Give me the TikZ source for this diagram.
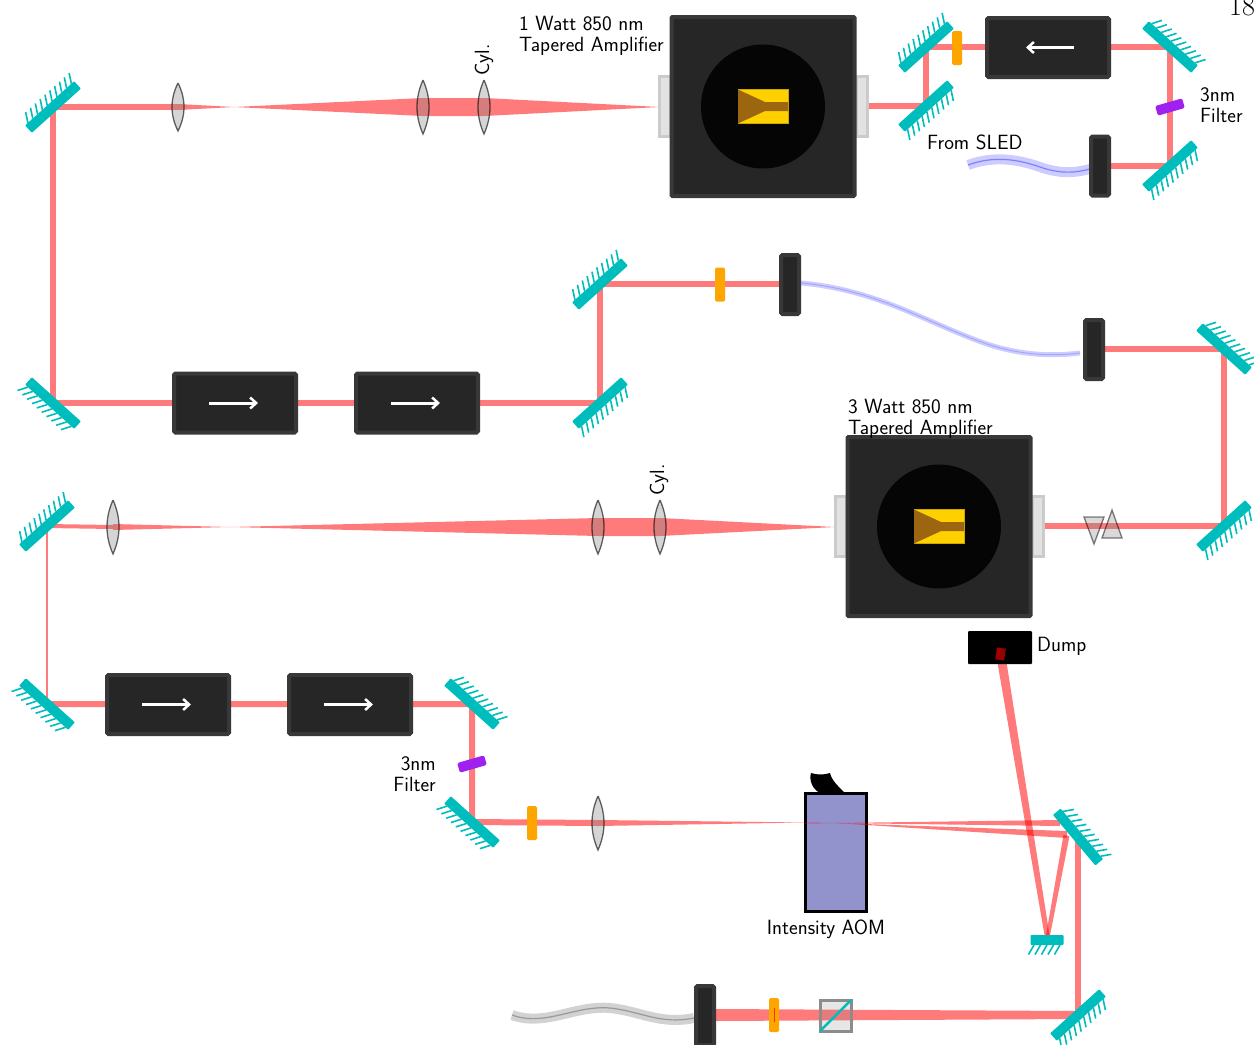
\documentclass[tikz,border=0pt]{standalone}
\usepackage{amsmath,amssymb}
\usetikzlibrary{arrows.meta}
\definecolor{teal}{HTML}{00BDBD}
\definecolor{boxdark}{HTML}{262626}
\definecolor{boxedge}{HTML}{383838}
\definecolor{plate}{HTML}{E2E2E2}
\definecolor{chipgold}{HTML}{FFD000}
\definecolor{chipbrown}{HTML}{9C6510}
\definecolor{wave}{HTML}{FFA500}
\definecolor{violet}{HTML}{A020F0}
\definecolor{aom}{HTML}{9292CC}
\colorlet{fibreblue}{blue!50}
\tikzset{
  beam/.style={draw=red,opacity=.52,line width=#1},
  beam/.default=6,
  beamfan/.style={fill=red,opacity=.52},
  isobox/.style={fill=boxdark,draw=boxedge,line width=4,rounded corners=1.5,minimum width=122,minimum height=59,inner sep=0},
  couplerbox/.style={fill=boxdark,draw=boxedge,line width=4,rounded corners=1.5,minimum width=18,minimum height=59,inner sep=0},
  waveplate/.style={fill=wave,rounded corners=1.5,minimum width=10,minimum height=34,inner sep=0},
  filterplate/.style={fill=violet,rounded corners=1.5,minimum width=28,minimum height=10,inner sep=0,rotate=16},
  isoarrow/.style={draw=white,line width=3,-{Straight Barb[length=6,width=11,line width=2.5]}},
  lbl/.style={inner sep=0,align=left},
  pics/mirror/.style={code={
    \fill[teal,rounded corners=.8] ({-#1*3.3},-5) rectangle ({#1*3.3},5);
    \foreach \t in {1,...,#1}
      \draw[teal,line width=1.6] ({(\t-(#1+1)/2)*6.5},-5) -- ++(5.5,-9.5);
  }},
  pics/mirror/.default=10,
  pics/lens/.style={code={
    \path[fill=gray,fill opacity=.33,draw=black,draw opacity=.6,line width=1.3]
      (0,-#1) .. controls (8,-#1/3) and (8,#1/3) .. (0,#1)
      .. controls (-8,#1/3) and (-8,-#1/3) .. (0,-#1);
  }},
  pics/lens/.default=27,
  pics/taperamp/.style={code={
    \fill[plate,draw=plate!90!black,line width=3] (-104,-30) rectangle (-93,30);
    \fill[plate,draw=plate!90!black,line width=3] (93,-30) rectangle (104,30);
    \fill[boxdark,draw=boxedge,line width=4,rounded corners=1] (-91.5,-89.5) rectangle (91.5,89.5);
    \fill[black!98] (0,0) circle (62);
    \fill[chipgold,draw=chipgold!80!black,line width=.6] (-25,-17) rectangle (25,17);
    \fill[chipbrown] (-25,-17) -- (2,-4.5) -- (25,-4.5) -- (25,4.5) -- (2,4.5) -- (-25,17) -- cycle;
  }},
}

\begin{document}
\begin{tikzpicture}[x=1pt,y=-1pt,font=\sffamily\fontsize{20.6}{21}\selectfont]
  \useasboundingbox (0,0) rectangle (1254,1045);
  \clip (0,0) rectangle (1254,1045);

  % mirrors and lenses along the path
  \coordinate (mA) at (53,107);
  \coordinate (mB) at (53,403);
  \coordinate (mC) at (600,403);
  \coordinate (mD) at (600,284);
  \coordinate (mE) at (926,47);
  \coordinate (mF) at (926,106);
  \coordinate (mG) at (1170,47);
  \coordinate (mH) at (1170,166);
  \coordinate (mI) at (1224,349);
  \coordinate (mJ) at (1224,526);
  \coordinate (mK) at (47,526);
  \coordinate (mL) at (47,704);
  \coordinate (mM) at (472,704);
  \coordinate (mN) at (472,822);
  \coordinate (mO) at (1078,837);
  \coordinate (mP) at (1047,940);
  \coordinate (mQ) at (1078,1015);
  \coordinate (lensA) at (178,107);
  \coordinate (lensB) at (423,107);
  \coordinate (lensC) at (484,107);
  \coordinate (lensD) at (113,527);
  \coordinate (lensE) at (598,527);
  \coordinate (lensF) at (660,527);
  \coordinate (lensG) at (598,823);
  \coordinate (aomC) at (836,823);
  \coordinate (ampA) at (763,106.5);
  \coordinate (ampB) at (939,526.5);

  % beams
  \draw[beam] (lensA) -- (mA) -- (mB) -- (mC) -- (mD) -- (790,284);
  \draw[beam] (862,106) -- (mF) -- (mE) -- (mG) -- (mH) -- (1100,166);
  \draw[beam] (1094,349) -- (mI) -- (mJ) -- (1040,526);
  \draw[beam=4] (lensD) -- (mK);
  \draw[beam=2.5] (mK) -- (mL);
  \draw[beam] (mL) -- (mM) -- (mN) -- (lensG);
  \draw[beam] (mO) -- (mQ);
  \fill[beamfan] (178,104) -- (234,107) -- (423,98) -- (484,98) -- (660,107)
    -- (484,116) -- (423,116) -- (234,107) -- (178,110) -- cycle;
  \fill[beamfan] (113,524) -- (230,527) -- (598,518) -- (660,518) -- (835,527)
    -- (660,536) -- (598,536) -- (230,527) -- (113,530) -- cycle;
  \fill[beamfan] (598,820) -- (805,822.5) -- (598,826) -- cycle;
  \fill[beamfan] (1078,1011) -- (716,1009) -- (716,1021) -- (1078,1019) -- cycle;

  % fibres
  \draw[fibreblue!40,line width=10] (968,165) .. controls (995,155) and (1020,160) .. (1040,167) .. controls (1060,174) and (1075,173) .. (1090,169);
  \draw[fibreblue,line width=1.2] (968,165) .. controls (995,155) and (1020,160) .. (1040,167) .. controls (1060,174) and (1075,173) .. (1090,169);
  \draw[fibreblue!40,line width=5] (801,283) .. controls (880,290) and (930,325) .. (990,345) .. controls (1025,356) and (1055,356) .. (1080,353);
  \draw[fibreblue!70,line width=1] (801,283) .. controls (880,290) and (930,325) .. (990,345) .. controls (1025,356) and (1055,356) .. (1080,353);
  \draw[gray!35,line width=10] (512,1015) .. controls (545,1027) and (575,1005) .. (610,1008) .. controls (640,1011) and (660,1025) .. (694,1018);
  \draw[gray!80,line width=1.2] (512,1015) .. controls (545,1027) and (575,1005) .. (610,1008) .. controls (640,1011) and (660,1025) .. (694,1018);

  % amplifiers
  \pic at (ampA) {taperamp};
  \pic at (ampB) {taperamp};

  % isolators
  \node[isobox] (isoA) at (235,403) {};
  \node[isobox] (isoB) at (417,403) {};
  \node[isobox] (isoC) at (1048,47.5) {};
  \node[isobox] (isoD) at (168,704.5) {};
  \node[isobox] (isoE) at (350,704.5) {};
  \draw[isoarrow] (209,403) -- (258,403);
  \draw[isoarrow] (391,403) -- (440,403);
  \draw[isoarrow] (1074,47.5) -- (1026,47.5);
  \draw[isoarrow] (142,704.5) -- (191,704.5);
  \draw[isoarrow] (324,704.5) -- (373,704.5);

  % fibre couplers
  \node[couplerbox] (cplA) at (1100,166) {};
  \node[couplerbox] (cplB) at (790,284.5) {};
  \node[couplerbox] (cplC) at (1094,349.5) {};
  \node[couplerbox] (cplD) at (705,1015.5) {};

  % plates and filters
  \node[waveplate] (waveA) at (957,48) {};
  \node[waveplate] (waveB) at (720,284.5) {};
  \node[waveplate] (waveC) at (532,823) {};
  \node[waveplate] (waveD) at (774,1015) {};
  \draw[red!70!wave,line width=.6] (774,1008) -- (774,1022);
  \node[filterplate] (filtA) at (1170,107) {};
  \node[filterplate] (filtB) at (472,764) {};

  % polarising cube and prisms
  \fill[gray,fill opacity=.2,draw=gray!90,draw opacity=1,line width=3] (820,1000) rectangle (851,1031);
  \draw[teal,line width=2.5] (820,1031) -- (851,1000);
  \path[fill=gray,fill opacity=.3,draw=black,draw opacity=.5,line width=1.3] (1084,517) -- (1104,517) -- (1094,544) -- cycle;
  \path[fill=gray,fill opacity=.3,draw=black,draw opacity=.5,line width=1.3] (1102,538) -- (1122,538) -- (1112,510) -- cycle;

  % AOM and the beams leaving it
  \fill[aom,draw=black,line width=3] (805.5,793.5) rectangle (866.5,911.5);
  \fill[black] (811,773) .. controls (817,775) and (824,775) .. (830,773) .. controls (832,781) and (838,786) .. (846,794)
    -- (822,794) .. controls (812,790) and (809,780) .. (811,773);
  \fill[beamfan] (805,822.5) -- (836,823) -- (805,823.5) -- cycle;
  \fill[beamfan] (aomC) -- (1060,820) -- (1060,826) -- cycle;
  \fill[beamfan] (aomC) -- (1067,831) -- (1067,838) -- cycle;
  \fill[beamfan] (1063.5,835) -- (1069.5,836) -- (1049.5,938) -- (1045.5,938) -- cycle;
  \fill[beamfan] (997,660) -- (1006,659) -- (1050,938) -- (1045,938) -- cycle;

  % dump
  \fill[black,rounded corners=1] (968,631) rectangle (1032,664);
  \fill[red!60!black,rotate around={-8:(1000.5,654)}] (996,648) rectangle (1005,660);

  % mirrors on top
  \pic[rotate=42] at (mA) {mirror};
  \pic[rotate=138] at (mB) {mirror};
  \pic[rotate=222] at (mC) {mirror};
  \pic[rotate=42] at (mD) {mirror};
  \pic[rotate=42] at (mE) {mirror};
  \pic[rotate=222] at (mF) {mirror};
  \pic[rotate=-42] at (mG) {mirror};
  \pic[rotate=222] at (mH) {mirror};
  \pic[rotate=-42] at (mI) {mirror};
  \pic[rotate=222] at (mJ) {mirror};
  \pic[rotate=42] at (mK) {mirror};
  \pic[rotate=138] at (mL) {mirror};
  \pic[rotate=-42] at (mM) {mirror};
  \pic[rotate=138] at (mN) {mirror};
  \pic[rotate=-50] at (mO) {mirror};
  \pic[rotate=180] at (mP) {mirror=5};
  \pic[rotate=222] at (mQ) {mirror};

  % lenses
  \pic at (lensA) {lens=24};
  \pic at (lensB) {lens};
  \pic at (lensC) {lens};
  \pic at (lensD) {lens};
  \pic at (lensE) {lens};
  \pic at (lensF) {lens};
  \pic at (lensG) {lens};

  % labels
  \node[lbl,anchor=base west] (tagA) at (519,51) {1 Watt 850 nm\\Tapered Amplifier};
  \node[lbl,anchor=base west] (tagB) at (848,434) {3 Watt 850 nm\\Tapered Amplifier};
  \node[lbl,rotate=90] (cylA) at (484,60) {Cyl.};
  \node[lbl,rotate=90] (cylB) at (659,480) {Cyl.};
  \node[lbl,anchor=west] (sled) at (927,142) {From SLED};
  \node[lbl,anchor=base west] (filtTagA) at (1200,122) {3nm\\Filter};
  \node[lbl,anchor=base east,align=right] (filtTagB) at (436,791) {3nm\\Filter};
  \node[lbl,anchor=west] (dump) at (1037,646) {Dump};
  \node[lbl] (aomTag) at (826,929) {Intensity AOM};
  \node[lbl,anchor=base west,font=\rmfamily\fontsize{28}{32}\selectfont] (page) at (1229,15) {18};
\end{tikzpicture}
\end{document}
